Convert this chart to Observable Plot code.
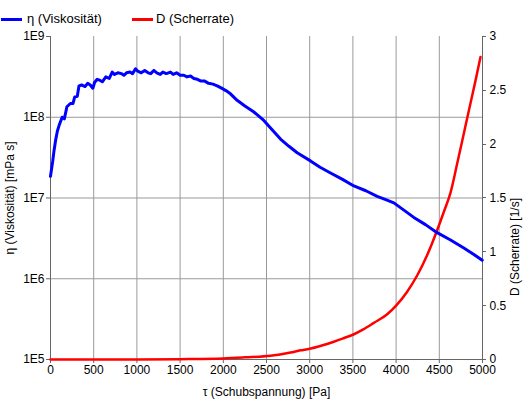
<!DOCTYPE html>
<html><head><meta charset="utf-8">
<script src="https://cdn.jsdelivr.net/npm/d3@7"></script>
<script src="https://cdn.jsdelivr.net/npm/@observablehq/plot@0.6"></script>
<style>
body{margin:0;background:#fff;font-family:"Liberation Sans",Arial,sans-serif;}
#legend{position:relative;height:24px;font-size:13px;color:#000;}
#legend .sw{position:absolute;top:18px;height:3px;width:21px;}
#legend .tx{position:absolute;top:11px;line-height:15px;white-space:nowrap;}
#chart svg{display:block;}
</style></head><body>
<div id="legend">
  <span class="sw" style="left:1px;background:#0000ff"></span><span class="tx" style="left:27px">η (Viskosität)</span>
  <span class="sw" style="left:132px;background:#ff0000"></span><span class="tx" style="left:156px">D (Scherrate)</span>
</div>
<div id="chart"></div>
<script>
// τ (Schubspannung) [Pa] for the viscosity series
const tauEta = [0,25,40,60,80,100,135,160,190,230,260,280,310,330,360,400,430,460,490,510,540,570,600,640,680,714,740,780,820,849,880,920,950,984,1010,1050,1090,1130,1160,1196,1230,1270,1300,1340,1389,1420,1460,1500,1543,1580,1620,1660,1700,1736,1780,1830,1880,1929,1980,2030,2083,2160,2250,2350,2469,2560,2662,2760,2855,3009,3120,3241,3380,3511,3650,3781,3880,3974,4090,4205,4340,4475,4630,4784,4900,4997];
// η (Viskosität) [mPa s]
const eta = [1.86e7,2.82e7,3.80e7,5.25e7,6.76e7,7.94e7,1.00e8,9.55e7,1.35e8,1.48e8,1.48e8,1.78e8,1.82e8,2.45e8,2.51e8,2.40e8,2.63e8,2.51e8,2.29e8,2.69e8,2.95e8,2.88e8,2.75e8,3.16e8,3.02e8,3.63e8,3.39e8,3.55e8,3.47e8,3.31e8,3.55e8,3.63e8,3.47e8,3.98e8,3.72e8,3.55e8,3.80e8,3.55e8,3.47e8,3.80e8,3.55e8,3.39e8,3.63e8,3.47e8,3.63e8,3.39e8,3.55e8,3.31e8,3.31e8,3.16e8,3.24e8,3.02e8,2.95e8,2.82e8,2.82e8,2.63e8,2.57e8,2.45e8,2.29e8,2.14e8,1.95e8,1.62e8,1.38e8,1.17e8,9.12e7,7.08e7,5.37e7,4.37e7,3.63e7,2.88e7,2.40e7,2.04e7,1.70e7,1.41e7,1.23e7,1.05e7,9.55e6,8.71e6,7.08e6,5.75e6,4.68e6,3.72e6,3.02e6,2.40e6,2.00e6,1.70e6];
// τ for the shear-rate series
const tauD = [0,500,1000,1500,2000,2250,2546,2778,2894,3000,3140,3279,3400,3500,3620,3742,3897,4000,4128,4244,4360,4475,4552,4630,4707,4784,4861,4919,4977];
// D (Scherrate) [1/s]
const shear = [0,0,0,0.003,0.01,0.02,0.035,0.065,0.085,0.10,0.13,0.165,0.20,0.23,0.28,0.34,0.42,0.50,0.63,0.78,0.97,1.20,1.37,1.55,1.82,2.10,2.38,2.59,2.81];

const xTicks = [0,500,1000,1500,2000,2500,3000,3500,4000,4500,5000];
const leftTicks = [1e5,1e6,1e7,1e8,1e9];
const leftGrid = [1e6,1e7,1e8];
const rightTicks = [0,0.5,1,1.5,2,2.5,3];
const rightTickLabels = ["0","0.5","1","1.5","2","2.5","3"];

const etaData = tauEta.map((t,i)=>({tau:t, v:eta[i]}));
const dData = tauD.map((t,i)=>({tau:t, d:shear[i]}));
const rightData = rightTicks.map((d,i)=>({d, label: rightTickLabels[i]}));
const dMax = 3;
const toLeft = d => Math.pow(10, 5 + d*4/dMax);

const chart = Plot.plot({
  width: 523,
  height: 375,
  marginTop: 12,
  marginBottom: 40,
  marginLeft: 50,
  marginRight: 41,
  style: {fontFamily: '"Liberation Sans", Arial, sans-serif', fontSize: "12px", color: "#000", background: "#fff", overflow: "visible"},
  x: {domain: [0,5000]},
  y: {type: "log", domain: [1e5,1e9]},
  marks: [
    Plot.gridX(xTicks, {stroke: "#9a9a9a", strokeOpacity: 1}),
    Plot.gridY(leftGrid, {stroke: "#9a9a9a", strokeOpacity: 1}),
    Plot.axisX(xTicks, {tickSize: 4, tickPadding: 2, stroke: "#666", tickFormat: d => String(d),
      label: "τ (Schubspannung) [Pa]", labelAnchor: "center", labelArrow: "none", labelOffset: 36}),
    Plot.axisY(leftTicks, {anchor: "left", tickSize: 4, tickPadding: 2, stroke: "#666",
      tickFormat: d => "1E" + Math.round(Math.log10(d)),
      label: "η (Viskosität) [mPa s]", labelAnchor: "center", labelArrow: "none", labelOffset: 45}),
    // right axis (D), drawn on the shared y scale
    Plot.text(rightData, {x: 5000, y: d => toLeft(d.d), text: "label", dx: 7, textAnchor: "start", fill: "#000"}),
    Plot.text(["D (Scherrate) [1/s]"], {frameAnchor: "right", dx: 33, rotate: -90, text: d => d, fill: "#000"}),
    Plot.ruleX([0], {stroke: "#666"}),
    Plot.ruleX([5000], {stroke: "#666"}),
    Plot.ruleY([1e5], {stroke: "#666"}),
    Plot.line(dData, {x: "tau", y: d => toLeft(d.d), stroke: "#ff0000", strokeWidth: 2.5, curve: "monotone-x"}),
    Plot.line(etaData, {x: "tau", y: "v", stroke: "#0000ff", strokeWidth: 3})
  ]
});
// short outward tick marks on the right axis, positioned with the chart's own scales
const yS = chart.scale("y"), xS = chart.scale("x");
const g = d3.select(chart).append("g").attr("stroke", "#666");
rightTicks.forEach(d => {
  const y = Math.round(yS.apply(toLeft(d))) + 0.5;
  const x = xS.apply(5000);
  g.append("line").attr("x1", x).attr("x2", x + 4).attr("y1", y).attr("y2", y);
});
document.getElementById("chart").appendChild(chart);
</script>
</body></html>
